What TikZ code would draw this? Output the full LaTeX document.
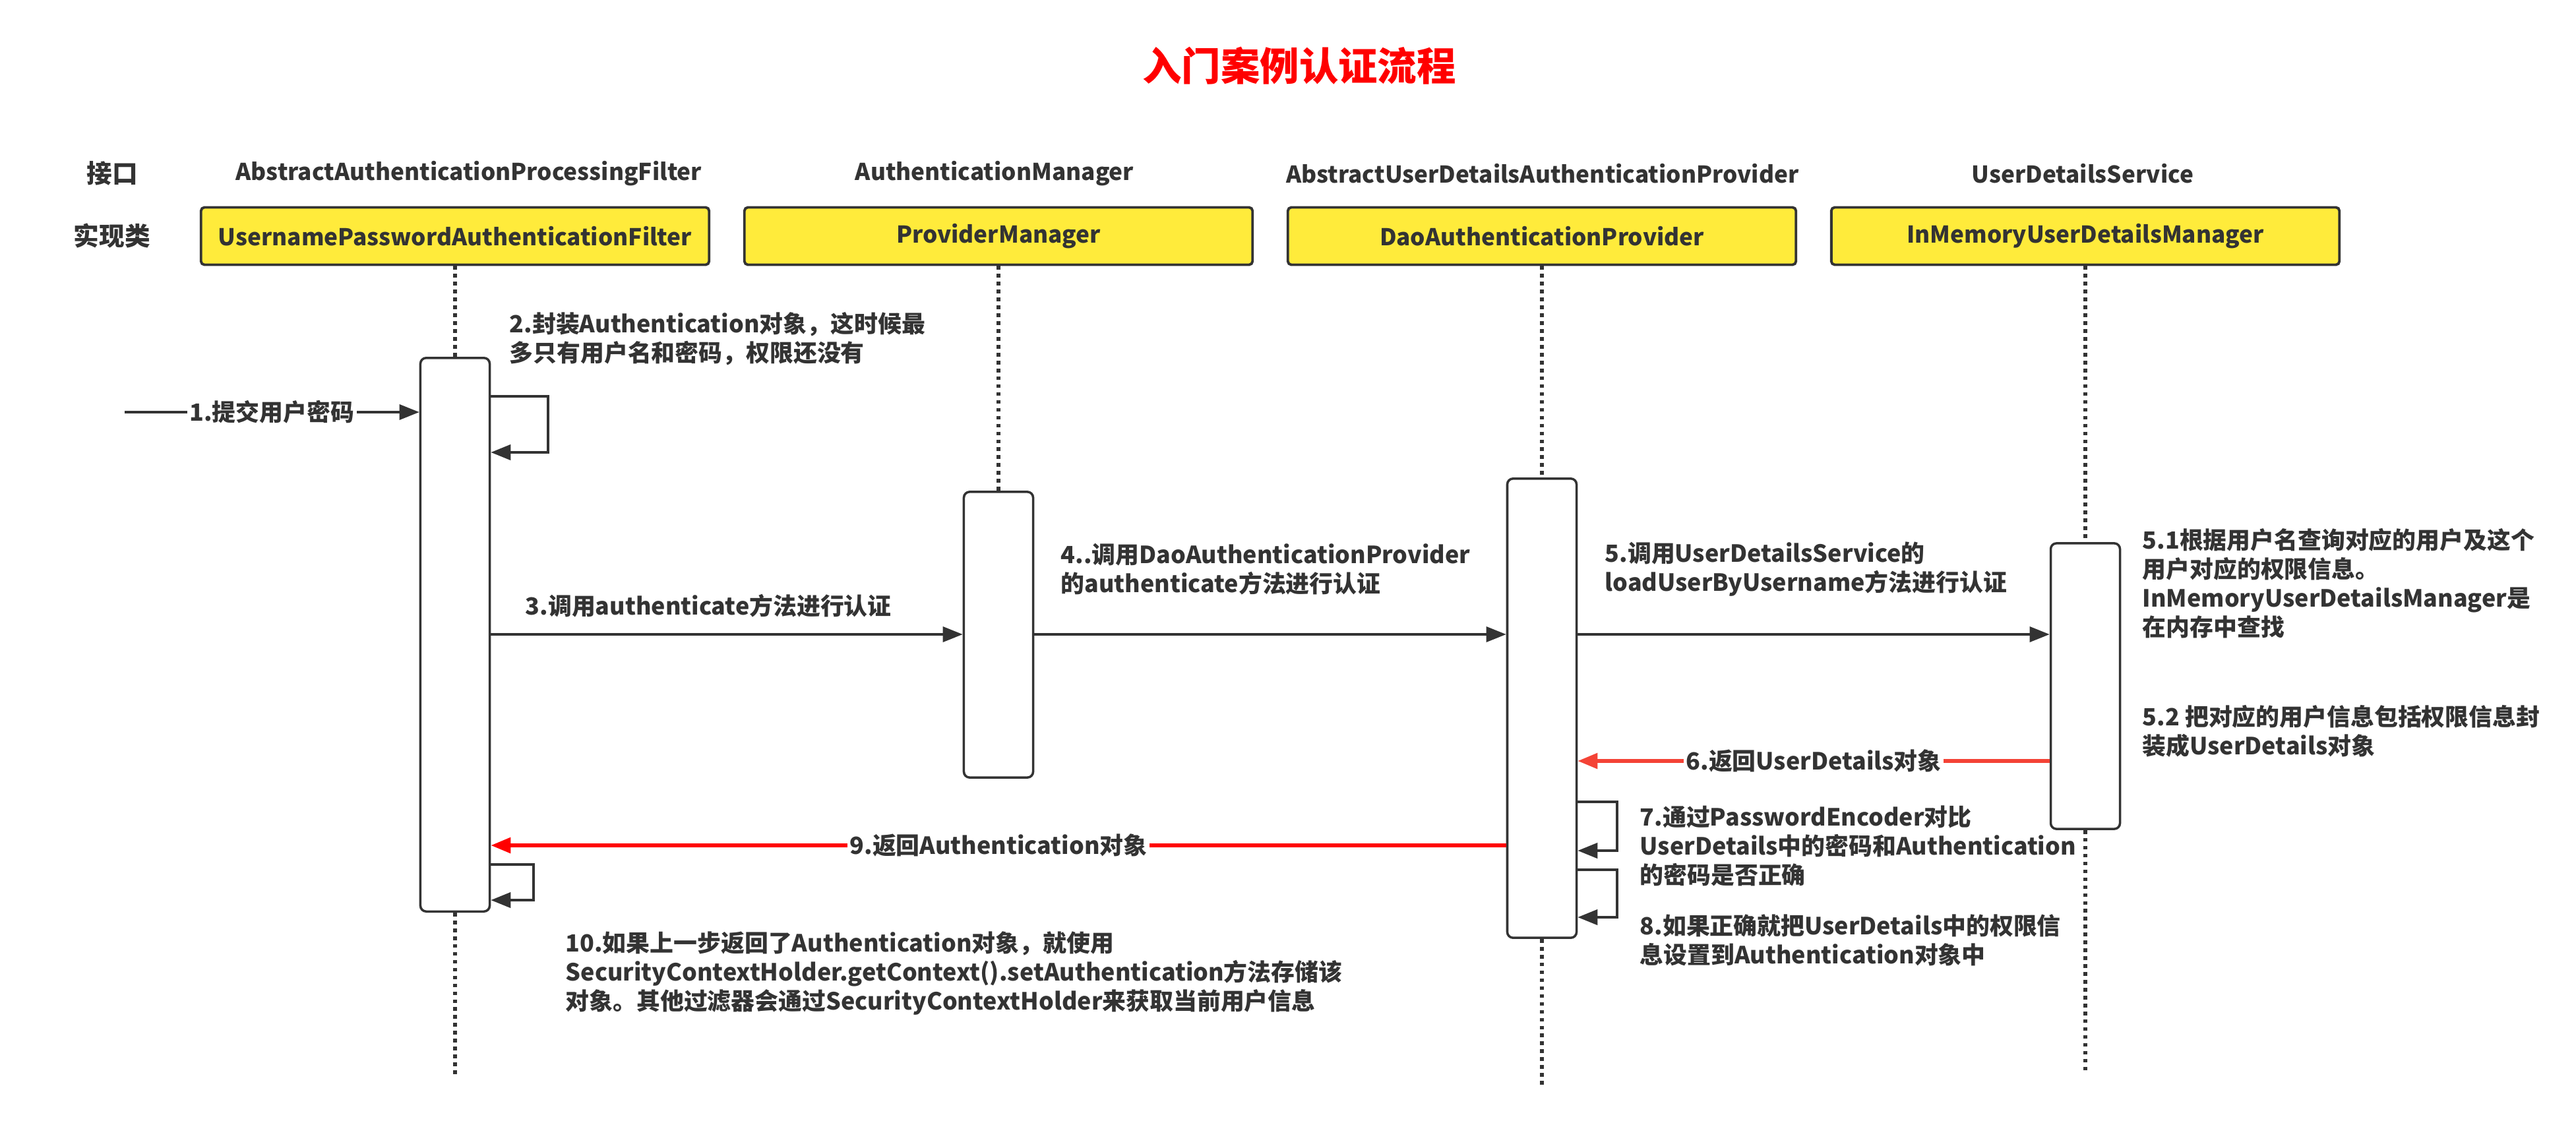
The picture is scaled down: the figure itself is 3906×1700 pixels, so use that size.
\documentclass[tikz,border=0pt]{standalone}
\usepackage{fontspec}
\setmainfont{Noto Sans CJK SC}
\usetikzlibrary{arrows.meta}
\definecolor{ink}{HTML}{333333}
\definecolor{clsfill}{HTML}{FFEB3B}
\definecolor{retred}{HTML}{F44336}
\tikzset{
    hdr/.style={font=\fontsize{10}{12}\selectfont\bfseries, text=ink},
    cjkhdr/.style={font=\fontsize{11}{13}\selectfont\bfseries, text=ink},
    cls/.style={draw=ink, line width=1.1pt, fill=clsfill, rounded corners=1.5pt,
        minimum width=7.7cm, minimum height=0.87cm, font=\fontsize{10}{12}\selectfont\bfseries, text=ink},
    act/.style={draw=ink, line width=1pt, fill=white, rounded corners=2.5pt, minimum width=1.05cm},
    life/.style={draw=ink, line width=1.5pt, dash pattern=on 1.6pt off 1.8pt},
    msg/.style={color=ink, line width=1pt, -{Triangle[length=0.3cm,width=0.23cm]}},
    loopmsg/.style={msg, line width=1.2pt},
    ret/.style={msg, line width=1.6pt},
    note/.style={anchor=west, align=left, inner sep=0pt, text=ink,
        font=\fontsize{10.2}{12.5}\selectfont\bfseries},
    onlabel/.style={fill=white, inner sep=1pt, text=ink, font=\fontsize{10.2}{12.5}\selectfont\bfseries}
}
\begin{document}
\begin{tikzpicture}[x=0.01cm, y=-0.01cm]
    \useasboundingbox (0,0) rectangle (3906,1700);
    \node[font=\fontsize{16.9}{20}\selectfont\bfseries, text=red] (title) at (1970,100) {入门案例认证流程};

    \node[cjkhdr] (itfhead) at (170,263) {接口};
    \node[cjkhdr] (clshead) at (170,358) {实现类};
    \node[hdr] (itf1) at (711,263) {AbstractAuthenticationProcessingFilter};
    \node[hdr] (itf2) at (1508,263) {AuthenticationManager};
    \node[hdr] (itf3) at (2339,263) {AbstractUserDetailsAuthenticationProvider};
    \node[hdr] (itf4) at (3158,263) {UserDetailsService};

    \node[cls] (cls1) at (690,358) {UsernamePasswordAuthenticationFilter};
    \node[cls] (cls2) at (1514,358) {ProviderManager};
    \node[cls] (cls3) at (2338,358) {DaoAuthenticationProvider};
    \node[cls] (cls4) at (3162,358) {InMemoryUserDetailsManager};

    \node[act, minimum height=8.39cm] (act1) at (690,962.5) {};
    \node[act, minimum height=4.33cm] (act2) at (1514,962.5) {};
    \node[act, minimum height=6.96cm] (act3) at (2338,1074) {};
    \node[act, minimum height=4.33cm] (act4) at (3162,1040.5) {};

    \coordinate (end1) at (690,1629);
    \coordinate (end3) at (2338,1645);
    \coordinate (end4) at (3162,1624);
    \draw[life] (cls1.south) -- (act1.north);
    \draw[life] (act1.south) -- (end1);
    \draw[life] (cls2.south) -- (act2.north);
    \draw[life] (cls3.south) -- (act3.north);
    \draw[life] (act3.south) -- (end3);
    \draw[life] (cls4.south) -- (act4.north);
    \draw[life] (act4.south) -- (end4);

    \coordinate (user) at (189,625);
    \draw[msg] (user) -- node[onlabel] (m1) {1.提交用户密码} (act1.west |- user);

    \draw[loopmsg] (act1.east |- 0,601) -- ++(87,0) |- (act1.east |- 0,686);
    \node[note] (n2) at (772,514) {2.封装Authentication对象，这时候最\\多只有用户名和密码，权限还没有};

    \draw[msg] (act1.east |- 0,962) -- (act2.west |- 0,962);
    \node[note] (n3) at (796,919) {3.调用authenticate方法进行认证};

    \draw[msg] (act2.east |- 0,962) -- (act3.west |- 0,962);
    \node[note] (n4) at (1608,863) {4..调用DaoAuthenticationProvider\\的authenticate方法进行认证};

    \draw[msg] (act3.east |- 0,962) -- (act4.west |- 0,962);
    \node[note] (n5) at (2433,863) {5.调用UserDetailsService的\\loadUserByUsername方法进行认证};

    \node[note] (n51) at (3248,885) {5.1根据用户名查询对应的用户及这个\\用户对应的权限信息。\\InMemoryUserDetailsManager是\\在内存中查找};
    \node[note] (n52) at (3248,1109) {5.2 把对应的用户信息包括权限信息封\\装成UserDetails对象};

    \draw[ret, color=retred] (act4.west |- 0,1154) -- node[onlabel] (m6) {6.返回UserDetails对象} (act3.east |- 0,1154);

    \draw[loopmsg] (act3.east |- 0,1216) -- ++(60,0) |- (act3.east |- 0,1290);
    \draw[loopmsg] (act3.east |- 0,1319) -- ++(60,0) |- (act3.east |- 0,1391);
    \node[note] (n7) at (2486,1283) {7.通过PasswordEncoder对比\\UserDetails中的密码和Authentication\\的密码是否正确};
    \node[note] (n8) at (2486,1426) {8.如果正确就把UserDetails中的权限信\\息设置到Authentication对象中};

    \draw[ret, color=red] (act3.west |- 0,1282) -- node[onlabel] (m9) {9.返回Authentication对象} (act1.east |- 0,1282);

    \draw[loopmsg] (act1.east |- 0,1311) -- ++(65,0) |- (act1.east |- 0,1365);
    \node[note] (n10) at (857,1476) {10.如果上一步返回了Authentication对象，就使用\\SecurityContextHolder.getContext().setAuthentication方法存储该\\对象。其他过滤器会通过SecurityContextHolder来获取当前用户信息};
\end{tikzpicture}
\end{document}
